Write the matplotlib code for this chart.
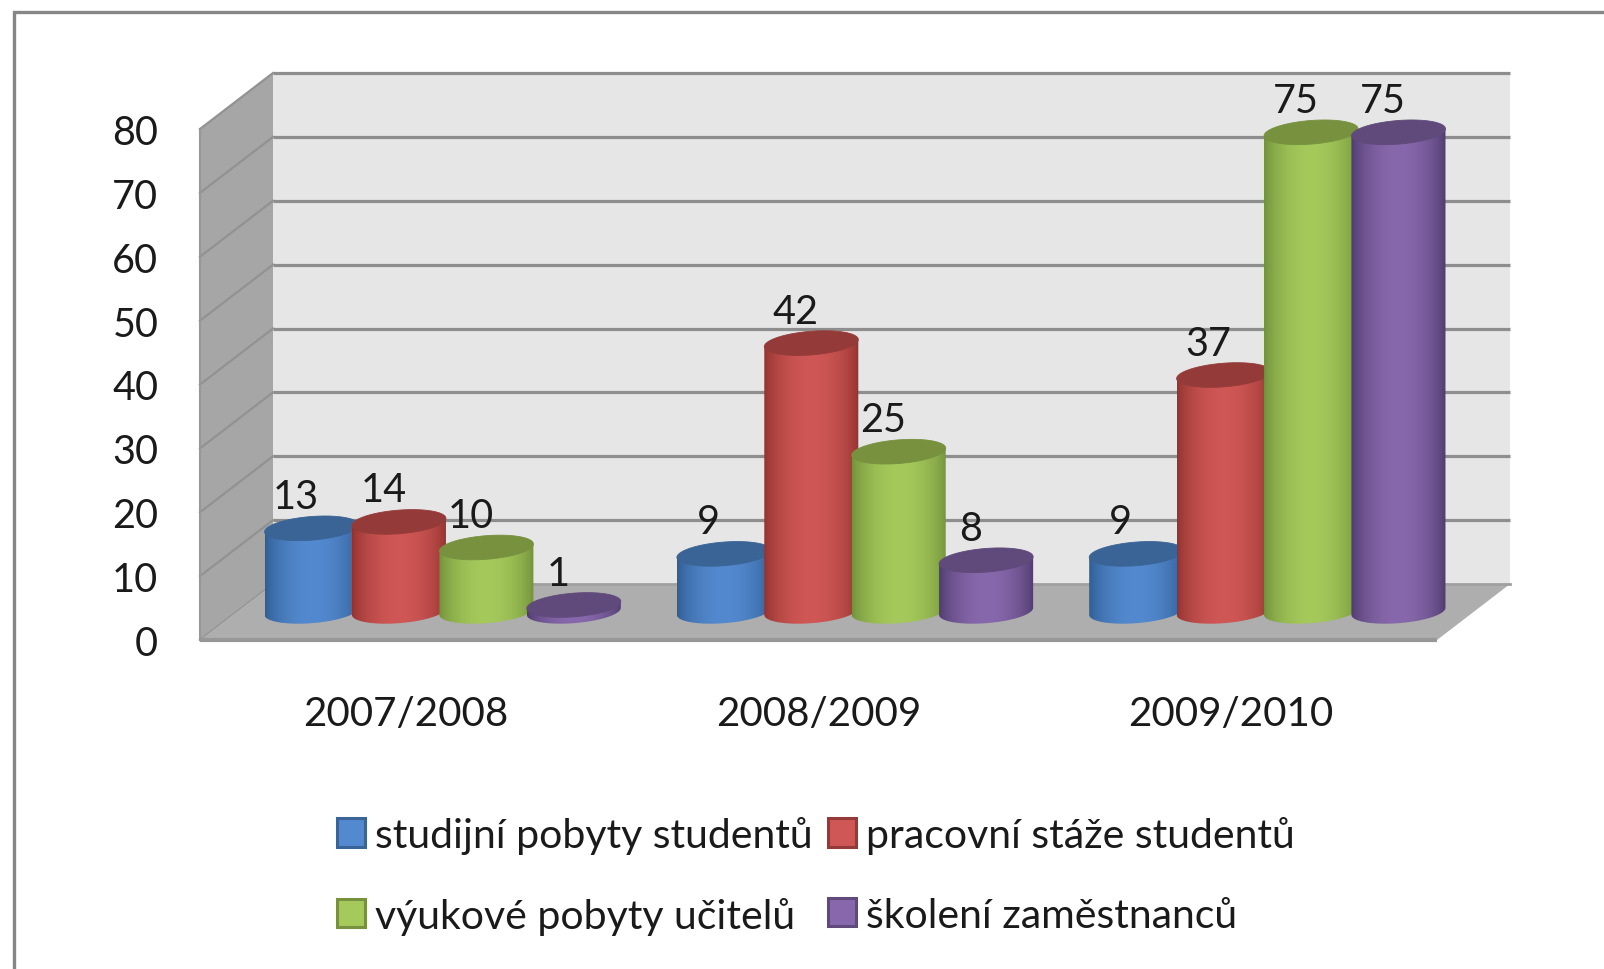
from matplotlib import pyplot as plt
from matplotlib.patches import Patch, Polygon, Rectangle
import numpy as np

plt.rcParams['font.family'] = ['Lato', 'DejaVu Sans']

# chart data
years = ['2007/2008', '2008/2009', '2009/2010']
studijni = [13, 9, 9]
staze = [14, 42, 37]
vyukove = [10, 25, 75]
skoleni = [1, 8, 75]
series_names = ['studijní pobyty studentů', 'pracovní stáže studentů',
                'výukové pobyty učitelů', 'školení zaměstnanců']
y_ticks = [0, 10, 20, 30, 40, 50, 60, 70, 80]

# edge, middle, top of each cylinder
colours = [('#2f5d92', '#5389cf', '#3a6496'),
           ('#91322f', '#cf5755', '#943b39'),
           ('#71903a', '#a5c95b', '#77913f'),
           ('#4d3a6c', '#8868ac', '#5f4a7b')]

W, H = 1604, 970
fig = plt.figure(figsize=(W / 100, H / 100), dpi=100)
px_l, px_r, px_t, px_b = 200, 1437, 130, 641
ax = fig.add_axes([px_l / W, 1 - px_b / H, (px_r - px_l) / W, (px_b - px_t) / H])

# outer frame, right and bottom edges run off the picture
fig.add_artist(Rectangle((13.5 / W, -0.05), 1.1, 1.05 - 12.5 / H,
                         transform=fig.transFigure, fc='none', ec='#868686', lw=2.4))

x0, x1 = -0.5, 2.5
dx = 73 / ((px_r - px_l) / 3)   # depth offset in category units
dy = 56 / ((px_b - px_t) / 80)  # depth offset in value units

# walls
ax.add_patch(Polygon([(x0 + dx, dy), (x1 + dx, dy), (x1 + dx, 80 + dy), (x0 + dx, 80 + dy)],
                     fc='#e6e6e6', ec='none', zorder=1, clip_on=False))
ax.add_patch(Polygon([(x0, 0), (x0 + dx, dy), (x0 + dx, 80 + dy), (x0, 80)],
                     fc='#a6a6a6', ec='none', zorder=1, clip_on=False))
for v in y_ticks:
    ax.plot([x0, x0 + dx], [v, v + dy], color='#929292', lw=1.6, zorder=2, clip_on=False)
    if v > 0:
        ax.plot([x0 + dx, x1 + dx], [v + dy, v + dy], color='#8e8e8e', lw=2.3, zorder=2,
                clip_on=False, solid_capstyle='butt')
ax.add_patch(Polygon([(x0, 0), (x1, 0), (x1 + dx, dy), (x0 + dx, dy)],
                     fc='#aeaeae', ec='none', zorder=3, clip_on=False))
ax.plot([x0 + dx, x1 + dx], [dy, dy], color='#a0a0a0', lw=2, zorder=3, clip_on=False)
ax.plot([x0, x1], [0, 0], color='#979797', lw=3, zorder=3, clip_on=False, solid_capstyle='butt')
ax.plot([x0, x0], [0, 80], color='#979797', lw=1.5, zorder=3, clip_on=False)


def hex_rgb(c):
    return np.array([int(c[i:i + 2], 16) / 255 for i in (1, 3, 5)])


def cylinder(cx, value, cols, z):
    rx, ry, k = 0.114, 1.85, 0.55
    base = dy / 2 + 0.1
    top = base + value
    t = np.linspace(np.pi, 2 * np.pi, 60)
    bx = cx + rx * np.cos(t)
    by = base + ry * np.sin(t) + k * np.cos(t)
    pts = np.column_stack([bx, by])
    pts = np.vstack([pts, [[cx + rx, top + k], [cx - rx, top - k]]])
    body = Polygon(pts, fc='none', ec='none', zorder=z, clip_on=False)
    ax.add_patch(body)
    # shading across the cylinder
    u = np.linspace(0, 1, 120)
    s = (np.sin(np.pi * u) ** 0.7)[:, None]
    grad = hex_rgb(cols[0]) * (1 - s) + hex_rgb(cols[1]) * s
    im = ax.imshow(grad[None, :, :], extent=(cx - rx, cx + rx, base - 4, top + 4),
                   aspect='auto', zorder=z, interpolation='bilinear')
    im.set_clip_box(fig.bbox)
    im.set_clip_path(body)
    # top cap
    t = np.linspace(0, 2 * np.pi, 100)
    ax.add_patch(Polygon(np.column_stack([cx + rx * np.cos(t),
                                          top + ry * np.sin(t) + k * np.cos(t)]),
                         fc=cols[2], ec=cols[2], lw=0.6, zorder=z + 0.1, clip_on=False))
    ax.text(cx - 0.038, top + 5.0, str(value), ha='center', va='center', fontsize=28.5,
            color='#1a1a1a', zorder=50)


offsets = [-0.318, -0.106, 0.106, 0.318]
z = 5
for i in range(len(years)):
    for j, vals in enumerate([studijni, staze, vyukove, skoleni]):
        cylinder(i + dx / 2 + offsets[j], vals[i], colours[j], z)
        z += 1

ax.set_xlim(x0, x1)
ax.set_ylim(0, 80)
ax.set_xticks(range(len(years)), years)
ax.set_yticks(y_ticks)
ax.tick_params(axis='y', length=0, pad=30, labelsize=28.5, labelcolor='#1a1a1a')
ax.tick_params(axis='x', length=0, pad=39.5, labelsize=29, labelcolor='#1a1a1a')
for s in ax.spines.values():
    s.set_visible(False)
ax.patch.set_visible(False)

handles = [Patch(fc=c[1], ec=c[2], lw=2.2, label=n) for c, n in zip(colours, series_names)]
# column order so the rows read across
order = [0, 2, 1, 3]
fig.legend([handles[i] for i in order], [series_names[i] for i in order], ncol=2,
           loc='upper left', bbox_to_anchor=(336.5 / W, 1 - 817 / H), borderaxespad=0, borderpad=0,
           frameon=False, fontsize=29.5, handlelength=0.69, handleheight=0.69,
           handletextpad=0.24, columnspacing=0.38, labelspacing=1.04, labelcolor='#1a1a1a')

fig.savefig('out.png', dpi=100)
